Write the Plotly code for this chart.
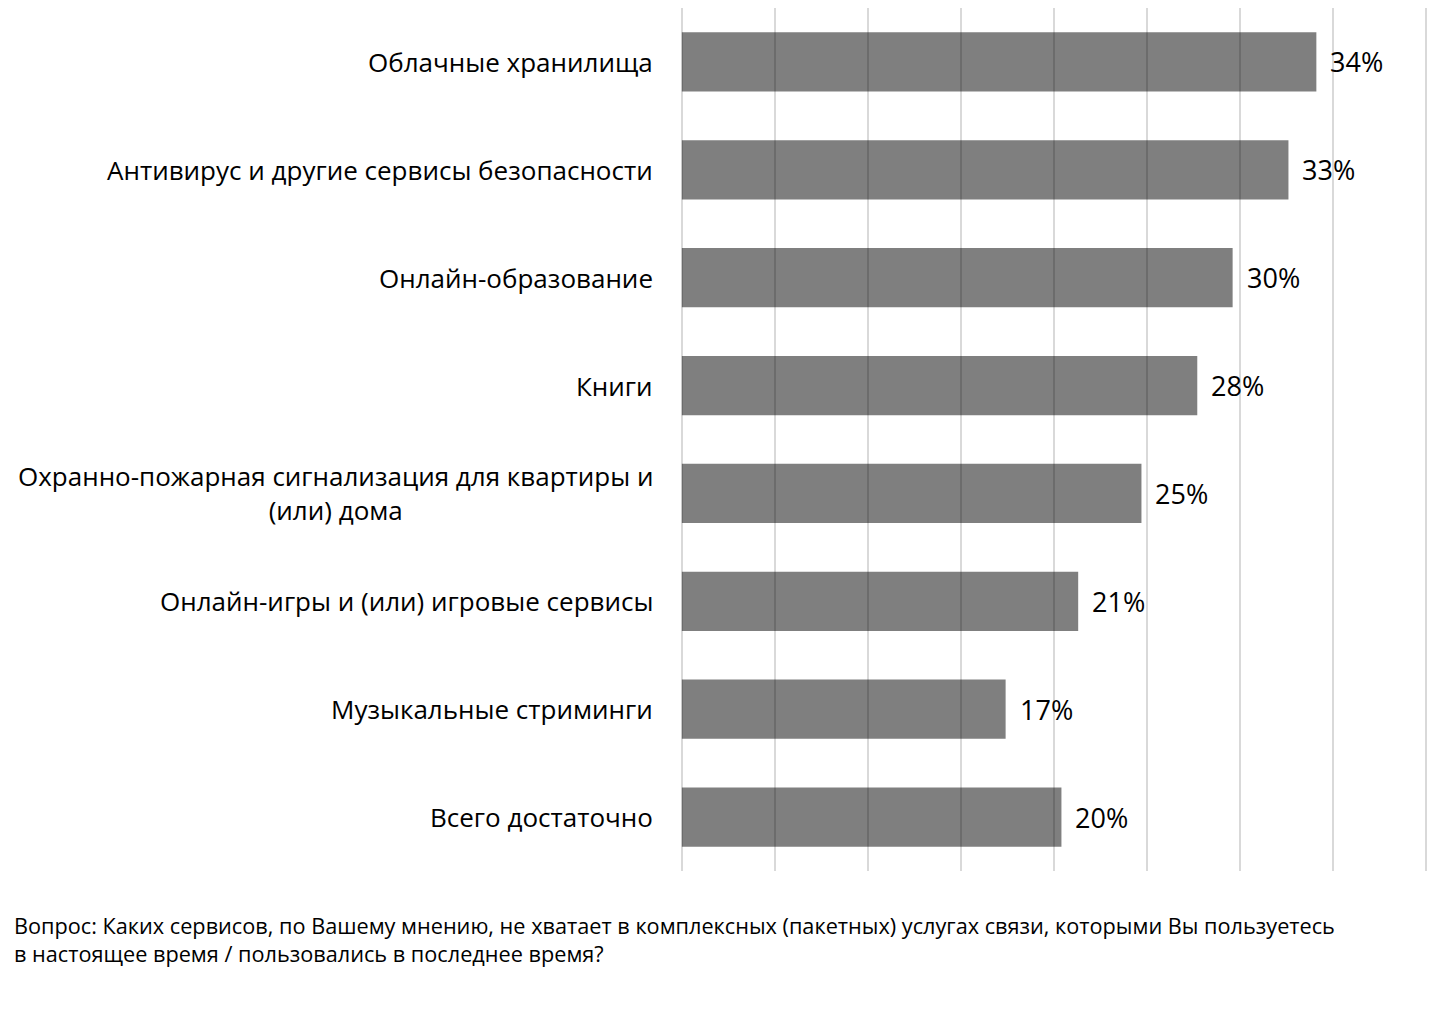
import plotly.graph_objects as go

categories = [
    "Облачные хранилища",
    "Антивирус и другие сервисы безопасности",
    "Онлайн-образование",
    "Книги",
    "Охранно-пожарная сигнализация для квартиры и<br>(или) дома",
    "Онлайн-игры и (или) игровые сервисы",
    "Музыкальные стриминги",
    "Всего достаточно",
]
values = [34.1, 32.6, 29.6, 27.7, 24.7, 21.3, 17.4, 20.4]
footnote = ("Вопрос: Каких сервисов, по Вашему мнению, не хватает в комплексных (пакетных) услугах связи, которыми Вы пользуетесь<br>"
            "в настоящее время / пользовались в последнее время?")

FONT = "Open Sans"

fig = go.Figure()
fig.add_trace(go.Bar(
    x=values, y=categories, orientation="h",
    marker=dict(color="rgba(0,0,0,0.5)", line=dict(width=0)),
    hoverinfo="skip",
))

W, H = 1446, 1024
L, R, T, B = 672, 1420, 0, 863
PW = R - L

for c, v in zip(categories, values):
    fig.add_annotation(
        x=-25 / PW, xref="paper", y=c, yref="y",
        text=c, showarrow=False, xanchor="right", yanchor="middle",
        align="center", font=dict(family=FONT, size=26, color="#000000"),
    )
    fig.add_annotation(
        x=v, xref="x", y=c, yref="y",
        text=f"{v:.0f}%", showarrow=False, xanchor="left", yanchor="middle",
        xshift=12, font=dict(family=FONT, size=27, color="#000000"),
    )

fig.add_annotation(
    x=-(L - 4) / PW, xref="paper", y=-0.044, yref="paper", xanchor="left", yanchor="top",
    text=footnote, showarrow=False, align="left",
    font=dict(family=FONT, size=21.7, color="#000000"),
)

fig.update_layout(
    width=W, height=H,
    margin=dict(l=L, r=W - R, t=T, b=H - B, pad=0),
    paper_bgcolor="white", plot_bgcolor="white",
    bargap=0.45,
    showlegend=False,
    font=dict(family=FONT),
    xaxis=dict(range=[-0.1, 40.1], tick0=0, dtick=5, showgrid=True, gridcolor="#d9d9d9", gridwidth=2,
               showticklabels=False, zeroline=False, showline=False, ticks=""),
    yaxis=dict(autorange="reversed", showticklabels=False, showgrid=False,
               zeroline=False, showline=False, ticks=""),
)
fig.write_html("out.html")
